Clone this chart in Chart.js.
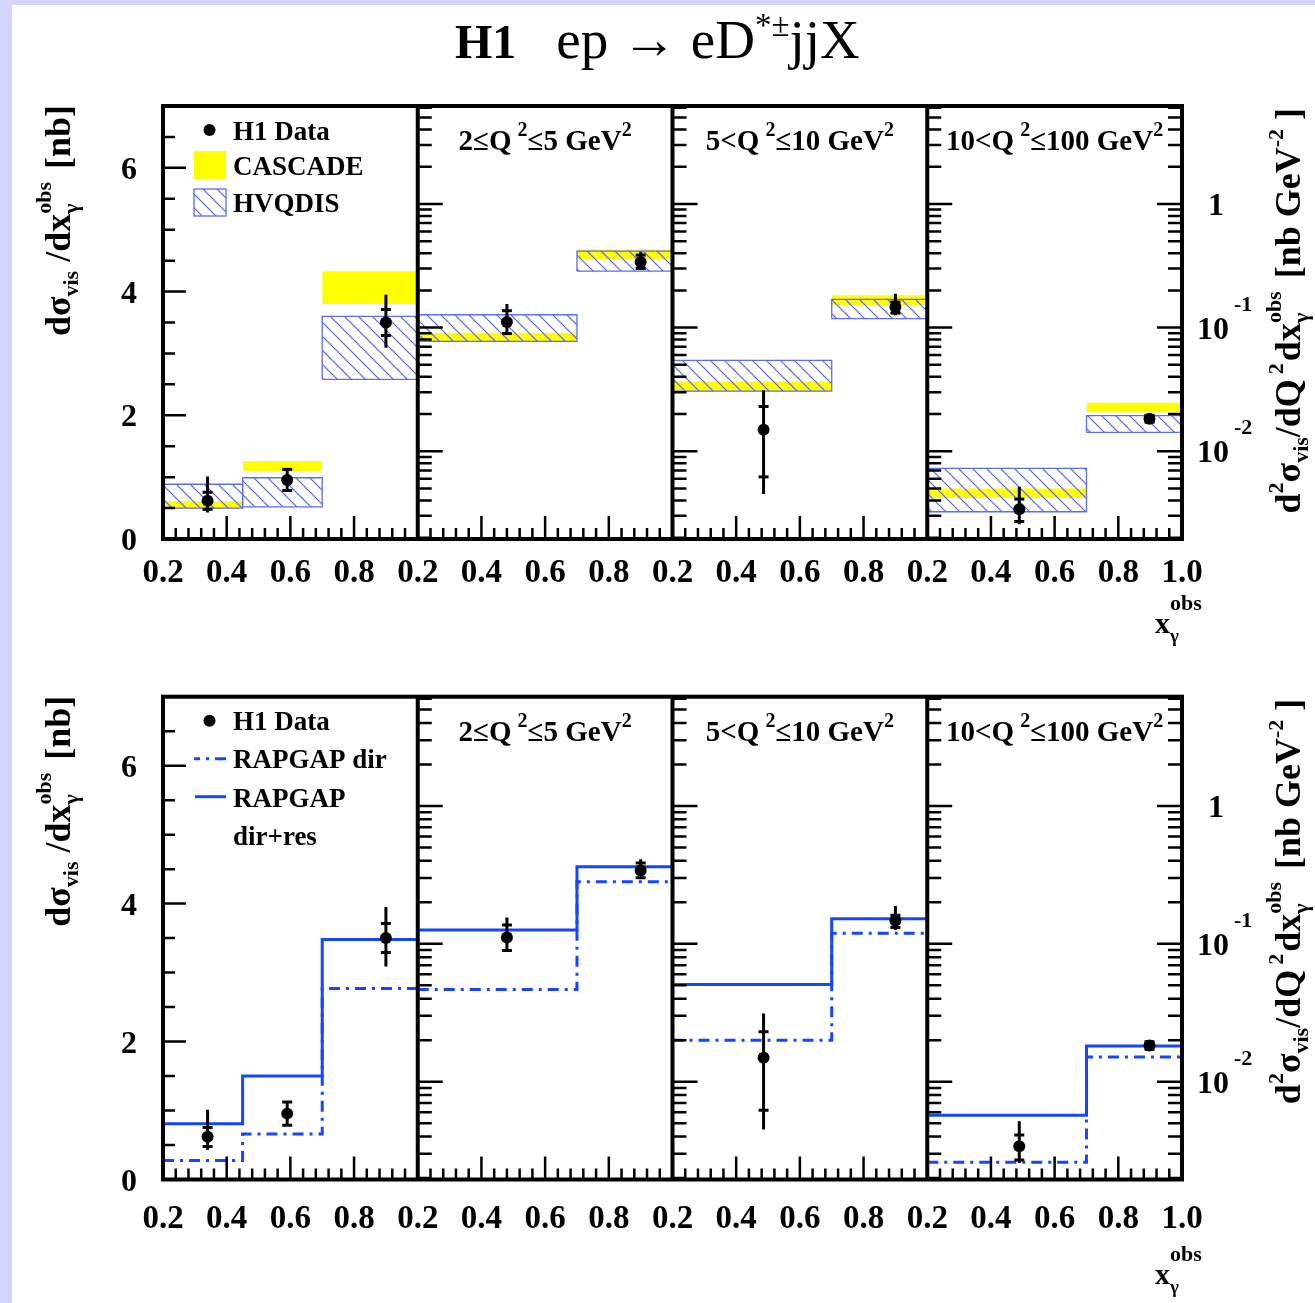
<!DOCTYPE html>
<html>
<head>
<meta charset="utf-8">
<script src="https://cdn.jsdelivr.net/npm/chart.js@4.4.1/dist/chart.umd.min.js"></script>
<style>
  html, body { margin: 0; padding: 0; background: #d3d5fa; }
  #page { position: relative; width: 1315px; height: 1303px; overflow: hidden; }
  #sheet { position: absolute; left: 12px; top: 5px; width: 1303px; height: 1298px; background: #fff; }
  canvas { position: absolute; left: 0; }
</style>
</head>
<body>
<div id="page">
  <div id="sheet"></div>
  <canvas id="top" width="1315" height="650" style="top:0"></canvas>
  <canvas id="bot" width="1315" height="653" style="top:650px"></canvas>
</div>
<script>
// bins in x_gamma^obs : panel 0 = all Q2, panels 1..3 = Q2 ranges
var xEdgesAll = [0.2, 0.45, 0.7, 1.0];
var xEdgesQ2 = [0.2, 0.7, 1.0];

// H1 data (panel 0 in nb, others in nb GeV^-2)
var dataX = [[0.34, 0.59, 0.90], [0.48, 0.90], [0.486, 0.90], [0.489, 0.898]];
var dataY = [[0.62, 0.955, 3.50], [0.111, 0.340], [0.0149, 0.147], [0.0034, 0.0183]];
var statLo = [[0.48, 0.785, 3.29], [0.0895, 0.301], [0.0062, 0.131], [0.0027, 0.0172]];
var statHi = [[0.755, 1.125, 3.71], [0.137, 0.386], [0.023, 0.161], [0.0041, 0.0195]];
var totLo = [[0.43, 0.775, 3.09], [0.0876, 0.295], [0.0045, 0.126], [0.00257, 0.0168]];
var totHi = [[1.01, 1.135, 3.95], [0.155, 0.41], [0.0312, 0.188], [0.00517, 0.0200]];

// models, top row
var hvqLo = [[0.50, 0.52, 2.58], [0.0774, 0.286], [0.0306, 0.118], [0.00324, 0.0142]];
var hvqHi = [[0.885, 0.99, 3.60], [0.127, 0.416], [0.0543, 0.169], [0.00727, 0.0194]];
var casLo = [[0.49, 1.09, 3.80], [0.0774, 0.356], [0.0306, 0.152], [0.00418, 0.0207]];
var casHi = [[0.615, 1.26, 4.33], [0.091, 0.429], [0.0367, 0.183], [0.0050, 0.0247]];

// models, bottom row
var rgDirRes = [[0.81, 1.50, 3.48], [0.126, 0.362], [0.0506, 0.152], [0.0057, 0.0181]];
var rgDir = [[0.276, 0.66, 2.77], [0.0465, 0.282], [0.020, 0.119], [0.0026, 0.0151]];

// axes
var xTickVals = [0.2, 0.4, 0.6, 0.8, 1.0];
var yLinTicks = [0, 2, 4, 6];
var yLogTicks = [1, 0.1, 0.01];
var yLogExps = ['', '-1', '-2'];
var panelTitles = [null, ['2\u2264Q', '2', '\u22645 GeV', '2'], ['5<Q', '2', '\u226410 GeV', '2'], ['10<Q', '2', '\u2264100 GeV', '2']];
var legendTop = ['H1 Data', 'CASCADE', 'HVQDIS'];
var legendBot = ['H1 Data', 'RAPGAP dir', 'RAPGAP', 'dir+res'];

var FAM = '"Liberation Serif", "Times New Roman", serif';
var BLUE = '#1446ff';
var HATCH = '#5264ee';

function font(s, w) { return (w || 'bold') + ' ' + s + 'px ' + FAM; }

// panel p occupies [0.8p, 0.8p+0.8] on the shared x scale
function gx(p, v) { return p * 0.8 + (v - 0.2); }
function ax(p) { return p === 0 ? 'y' : 'yl'; }
function edgesOf(p) { return p === 0 ? xEdgesAll : xEdgesQ2; }

var hatch = (function () {
  var c = document.createElement('canvas');
  c.width = 14; c.height = 14;
  var g = c.getContext('2d');
  g.strokeStyle = HATCH;
  g.lineWidth = 1.2;
  g.beginPath();
  for (var k = -1; k <= 1; k++) { g.moveTo(k * 14 - 1, -1); g.lineTo(k * 14 + 15, 15); }
  g.stroke();
  return g.createPattern(c, 'repeat');
})();

function rich(ctx, x, y, parts, align, rot) {
  ctx.save();
  ctx.translate(x, y);
  if (rot) ctx.rotate(rot);
  var cx = 0, last = 0, placed = [];
  parts.forEach(function (p) {
    ctx.font = font(p.s, p.w);
    var w = ctx.measureText(p.t).width;
    var start = p.stack ? last : cx + (p.gap || 0);
    if (!p.stack) last = start;
    placed.push([p, start]);
    cx = Math.max(cx, start + w);
  });
  var off = align === 'center' ? -cx / 2 : (align === 'right' ? -cx : 0);
  ctx.fillStyle = '#000';
  ctx.textAlign = 'left';
  ctx.textBaseline = 'alphabetic';
  placed.forEach(function (q) {
    ctx.font = font(q[0].s, q[0].w);
    ctx.fillText(q[0].t, off + q[1], q[0].dy || 0);
  });
  ctx.restore();
}

function pointSets() {
  var sets = [];
  for (var p = 0; p < 4; p++) {
    var bars = [], caps = [], pts = [];
    for (var i = 0; i < dataX[p].length; i++) {
      var X = gx(p, dataX[p][i]);
      bars.push({ x: X, y: totLo[p][i] }, { x: X, y: totHi[p][i] }, { x: X, y: null });
      caps.push({ x: X, y: statLo[p][i] }, { x: X, y: statHi[p][i] });
      pts.push({ x: X, y: dataY[p][i] });
    }
    sets.push({ data: bars, yAxisID: ax(p), borderColor: '#000', borderWidth: 3, pointRadius: 0, spanGaps: false, fill: false, order: 1 });
    sets.push({ data: caps, yAxisID: ax(p), showLine: false, pointStyle: 'line', pointRadius: 5, pointBorderWidth: 3, pointBorderColor: '#000', order: 1 });
    sets.push({ data: pts, yAxisID: ax(p), showLine: false, pointStyle: 'circle', pointRadius: 6, pointBackgroundColor: '#000', pointBorderWidth: 0, order: 0 });
  }
  return sets;
}

function boxSets() {
  var sets = [];
  for (var p = 0; p < 4; p++) {
    var e = edgesOf(p);
    for (var b = 0; b < e.length - 1; b++) {
      var x0 = gx(p, e[b]), x1 = gx(p, e[b + 1]);
      sets.push({ data: [{ x: x0, y: casHi[p][b] }, { x: x1, y: casHi[p][b] }], fill: { value: casLo[p][b] },
        backgroundColor: '#ffff00', borderWidth: 0, pointRadius: 0, yAxisID: ax(p), order: 5 });
      sets.push({ data: [{ x: x0, y: hvqHi[p][b] }, { x: x1, y: hvqHi[p][b] }], fill: { value: hvqLo[p][b] },
        backgroundColor: hatch, borderWidth: 0, pointRadius: 0, yAxisID: ax(p), order: 4 });
      sets.push({ data: [{ x: x0, y: hvqLo[p][b] }, { x: x1, y: hvqLo[p][b] }, { x: x1, y: hvqHi[p][b] },
        { x: x0, y: hvqHi[p][b] }, { x: x0, y: hvqLo[p][b] }],
        borderColor: '#5b6cf5', borderWidth: 1.3, pointRadius: 0, fill: false, yAxisID: ax(p), order: 3 });
    }
  }
  return sets;
}

function stepSets() {
  var sets = [];
  for (var p = 0; p < 4; p++) {
    var e = edgesOf(p);
    [[rgDirRes, []], [rgDir, [11, 6, 3, 6]]].forEach(function (m) {
      var vals = m[0][p], data = [];
      for (var b = 0; b < vals.length; b++) {
        data.push({ x: gx(p, e[b]), y: vals[b] }, { x: gx(p, e[b + 1]), y: vals[b] });
      }
      sets.push({ data: data, yAxisID: ax(p), borderColor: BLUE, borderWidth: 3, borderDash: m[1],
        pointRadius: 0, fill: false, order: 2 });
    });
  }
  return sets;
}

function makeDeco(row) {
  return {
    id: 'deco_' + row.id,
    afterDatasetsDraw: function (chart) {
      var ctx = chart.ctx, a = chart.chartArea;
      var sx = chart.scales.x, sy = chart.scales.y, sl = chart.scales.yl;
      ctx.save();
      ctx.strokeStyle = '#000';
      ctx.lineWidth = 2.5;
      ctx.beginPath();
      for (var p = 0; p < 4; p++) {
        for (var k = 1; k < 20; k++) {
          var X = sx.getPixelForValue(gx(p, 0.2 + k * 0.04));
          ctx.moveTo(X, a.bottom);
          ctx.lineTo(X, a.bottom - (k % 5 === 0 ? 23 : 11));
        }
      }
      for (var j = 1; j < 14; j++) {
        var Y = sy.getPixelForValue(j * 0.5);
        ctx.moveTo(a.left, Y);
        ctx.lineTo(a.left + (j % 4 === 0 ? 23 : 12), Y);
      }
      var logVals = [];
      for (var ex = -3; ex <= 0; ex++) {
        for (var m = 1; m <= 9; m++) {
          var v = m * Math.pow(10, ex);
          if (v > sl.min && v < sl.max) logVals.push([v, m === 1]);
        }
      }
      for (var q = 1; q <= 4; q++) {
        var XE = q === 4 ? a.right : sx.getPixelForValue(gx(q, 0.2));
        var dir = q === 4 ? -1 : 1;
        logVals.forEach(function (lv) {
          var YL = sl.getPixelForValue(lv[0]);
          ctx.moveTo(XE, YL);
          ctx.lineTo(XE + dir * (lv[1] ? 25 : 14), YL);
        });
      }
      ctx.stroke();
      ctx.lineWidth = 4;
      ctx.strokeRect(a.left, a.top, a.right - a.left, a.bottom - a.top);
      ctx.beginPath();
      for (var d = 1; d < 4; d++) {
        var XD = sx.getPixelForValue(gx(d, 0.2));
        ctx.moveTo(XD, a.top);
        ctx.lineTo(XD, a.bottom);
      }
      ctx.stroke();
      ctx.restore();
    },
    afterDraw: function (chart) {
      var ctx = chart.ctx, a = chart.chartArea;
      var sx = chart.scales.x, sy = chart.scales.y, sl = chart.scales.yl;
      ctx.save();
      // x tick labels
      for (var p = 0; p < 4; p++) {
        xTickVals.forEach(function (v) {
          if (v === 1.0 && p < 3) return;
          rich(ctx, sx.getPixelForValue(gx(p, v)), a.bottom + row.labOff, [{ t: v.toFixed(1), s: 33 }], 'center');
        });
      }
      // left linear labels
      yLinTicks.forEach(function (v) {
        rich(ctx, 137, sy.getPixelForValue(v) + 11, [{ t: String(v), s: 32 }], 'right');
      });
      // right log labels
      yLogTicks.forEach(function (v, i) {
        var Y = sl.getPixelForValue(v);
        if (!yLogExps[i]) {
          rich(ctx, 1216, Y + 11, [{ t: String(v), s: 32 }], 'center');
        } else {
          rich(ctx, 1197, Y + 11, [{ t: '10', s: 32 }, { t: yLogExps[i], s: 22, dy: -28, gap: 5 }], 'left');
        }
      });
      // panel titles
      for (var k = 1; k < 4; k++) {
        var pt = panelTitles[k];
        var cxp = (sx.getPixelForValue(gx(k, 0.2)) + sx.getPixelForValue(gx(k, 1.0))) / 2;
        rich(ctx, cxp, a.top + 44, [{ t: pt[0], s: 29 }, { t: pt[1], s: 20, dy: -14, gap: 6 },
          { t: pt[2], s: 29 }, { t: pt[3], s: 20, dy: -14 }], 'center');
      }
      // axis titles
      var T = 36, S = 22;
      rich(ctx, 70, a.top - 1, [{ t: 'd\u03c3', s: T }, { t: 'vis', s: S, dy: 8 }, { t: ' /dx', s: T },
        { t: '\u03b3', s: S, dy: 8 }, { t: 'obs', s: S, dy: -19, stack: true }, { t: ' [nb]', s: T, gap: 4 }], 'right', -Math.PI / 2);
      rich(ctx, 1300, a.top + 2, [{ t: 'd', s: T }, { t: '2', s: S, dy: -17 }, { t: '\u03c3', s: T },
        { t: 'vis', s: S, dy: 8 }, { t: '/dQ', s: T }, { t: '2', s: S, dy: -17, gap: 5 }, { t: 'dx', s: T, gap: 2 },
        { t: '\u03b3', s: S, dy: 8 }, { t: 'obs', s: S, dy: -19, stack: true }, { t: ' [nb GeV', s: T, gap: 4 },
        { t: '-2', s: S, dy: -17 }, { t: ' ]', s: T }], 'right', -Math.PI / 2);
      rich(ctx, 1155, a.bottom + row.xtOff, [{ t: 'x', s: 30 }, { t: '\u03b3', s: 19, dy: 9 },
        { t: 'obs', s: 22, dy: -23, stack: true }], 'left');
      // legend
      ctx.fillStyle = '#000';
      ctx.beginPath();
      ctx.arc(209.5, a.top + 24, 6, 0, Math.PI * 2);
      ctx.fill();
      if (row.kind === 'hvq') {
        rich(ctx, 233, a.top + 34, [{ t: legendTop[0], s: 27 }]);
        ctx.fillStyle = '#ffff00';
        ctx.fillRect(194, a.top + 45, 32, 28);
        rich(ctx, 233, a.top + 69, [{ t: legendTop[1], s: 27 }]);
        ctx.fillStyle = hatch;
        ctx.fillRect(194, a.top + 83, 32, 27);
        ctx.strokeStyle = '#5b6cf5';
        ctx.lineWidth = 1.3;
        ctx.strokeRect(194, a.top + 83, 32, 27);
        rich(ctx, 233, a.top + 106, [{ t: legendTop[2], s: 27 }]);
        // main title
        rich(ctx, 455, 58, [{ t: 'H1', s: 48 }, { t: 'ep \u2192 eD', s: 55, w: 'normal', gap: 40 },
          { t: '*\u00b1', s: 33, w: 'normal', dy: -22 }, { t: 'jjX', s: 55, w: 'normal' }]);
      } else {
        rich(ctx, 233, a.top + 33, [{ t: legendBot[0], s: 27 }]);
        ctx.strokeStyle = BLUE;
        ctx.lineWidth = 3;
        ctx.setLineDash([11, 6, 3, 6]);
        ctx.beginPath();
        ctx.moveTo(226, a.top + 62); ctx.lineTo(194, a.top + 62);
        ctx.stroke();
        ctx.setLineDash([]);
        ctx.beginPath();
        ctx.moveTo(195, a.top + 100); ctx.lineTo(226, a.top + 100);
        ctx.stroke();
        rich(ctx, 233, a.top + 71, [{ t: legendBot[1], s: 27 }]);
        rich(ctx, 233, a.top + 110, [{ t: legendBot[2], s: 27 }]);
        rich(ctx, 233, a.top + 148, [{ t: legendBot[3], s: 27 }]);
      }
      ctx.restore();
    }
  };
}

var rows = [
  { id: 'top', top: 0, h: 650, l: 163, t: 106, r: 1182, b: 539, kind: 'hvq', labOff: 43, xtOff: 94 },
  { id: 'bot', top: 650, h: 653, l: 163, t: 696.7, r: 1182, b: 1179.5, kind: 'rg', labOff: 48, xtOff: 104 }
];

rows.forEach(function (row) {
  var datasets = pointSets().concat(row.kind === 'hvq' ? boxSets() : stepSets());
  new Chart(document.getElementById(row.id), {
    type: 'line',
    data: { datasets: datasets },
    options: {
      responsive: false,
      animation: false,
      devicePixelRatio: 1,
      events: [],
      layout: { padding: { left: row.l, right: 1315 - row.r, top: row.t - row.top, bottom: row.top + row.h - row.b } },
      plugins: { legend: { display: false }, tooltip: { enabled: false } },
      scales: {
        x: { type: 'linear', min: 0, max: 3.2, display: false },
        y: { type: 'linear', min: 0, max: 7, display: false },
        yl: { type: 'logarithmic', min: 0.00195, max: 6.2, display: false }
      }
    },
    plugins: [makeDeco(row)]
  });
});
</script>
</body>
</html>
